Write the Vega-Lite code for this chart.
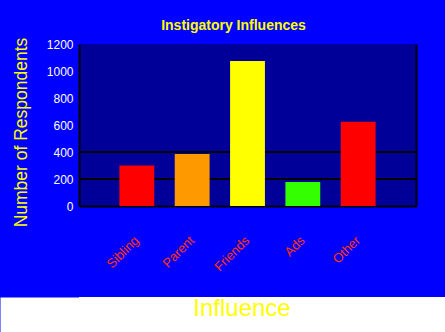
{
  "$schema": "https://vega.github.io/schema/vega-lite/v6.json",
  "background": "#0000FF",
  "padding": {"left": 12, "top": 19, "right": 0, "bottom": 0},
  "spacing": 23,
  "align": "none",
  "config": {"view": {"stroke": null}, "font": "Liberation Sans"},
  "datasets": {
    "bars": [
      {"influence": "Sibling", "respondents": 300},
      {"influence": "Parent", "respondents": 385},
      {"influence": "Friends", "respondents": 1075},
      {"influence": "Ads", "respondents": 178},
      {"influence": "Other", "respondents": 625}
    ],
    "grid": [{"v": 200}, {"v": 400}],
    "xtitle": [{"label": "Influence"}]
  },
  "vconcat": [
    {
      "width": 337,
      "height": 162,
      "title": {"text": "Instigatory Influences", "color": "#FFFF00", "fontSize": 14, "fontWeight": "bold", "offset": 4, "dx": -14},
      "view": {"fill": "#000099", "stroke": null},
      "layer": [
        {
          "data": {"name": "grid"},
          "mark": {"type": "rule", "color": "black", "strokeWidth": 2},
          "encoding": {
            "y": {"field": "v", "type": "quantitative",
              "axis": {"orient": "right", "labels": false, "ticks": false, "grid": false, "title": null, "domainColor": "black", "domainWidth": 2}}
          }
        },
        {
          "data": {"name": "bars"},
          "mark": {"type": "bar"},
          "encoding": {
            "x": {"field": "influence", "type": "nominal", "sort": null,
              "scale": {"paddingInner": 0.37, "paddingOuter": 0.73},
              "axis": {"labelAngle": -45, "labelColor": "#FF3300", "labelFontSize": 13, "labelAlign": "right", "labelBaseline": "middle", "labelPadding": 32, "ticks": false, "domainColor": "black", "domainWidth": 2, "title": null}},
            "y": {"field": "respondents", "type": "quantitative",
              "scale": {"domain": [0, 1200], "nice": false},
              "axis": {"orient": "left", "values": [0, 200, 400, 600, 800, 1000, 1200], "format": "d", "labelColor": "white", "labelFontSize": 12, "labelPadding": 6, "ticks": false, "grid": false, "domainColor": "black", "domainWidth": 2,
                "title": "Number of Respondents", "titleColor": "#FFFF00", "titleFontSize": 17.5, "titleFontWeight": "normal", "titlePadding": 16, "titleY": 88}},
            "color": {"field": "influence", "type": "nominal",
              "scale": {"domain": ["Sibling", "Parent", "Friends", "Ads", "Other"], "range": ["#FF0000", "#FF9900", "#FFFF00", "#33FF00", "#FF0000"]},
              "legend": null}
          }
        }
      ],
      "resolve": {"axis": {"y": "independent"}}
    },
    {
      "width": 366,
      "height": 36,
      "view": {"fill": "white", "stroke": null},
      "data": {"name": "xtitle"},
      "mark": {"type": "text", "color": "#FFFF00", "fontSize": 24, "dx": -20, "dy": -6, "baseline": "middle"},
      "encoding": {
        "y": {"field": "label", "type": "nominal",
          "axis": {"orient": "left", "labels": false, "ticks": false, "grid": false, "title": null, "domainColor": "white", "domainWidth": 158, "domainCap": "butt"}},
        "text": {"field": "label", "type": "nominal"}
      }
    }
  ]
}
